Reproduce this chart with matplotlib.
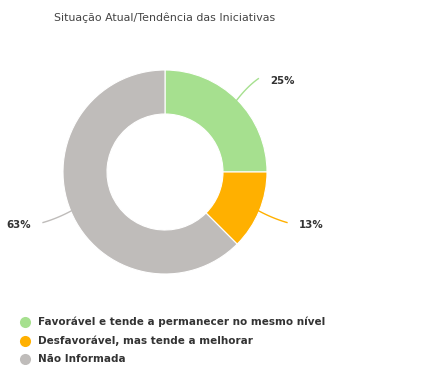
import numpy as np
import matplotlib
matplotlib.use("Agg")
import matplotlib.pyplot as plt

title = "Situação Atual/Tendência das Iniciativas"
categories = ["Favorável e tende a permanecer no mesmo nível",
              "Desfavorável, mas tende a melhorar",
              "Não Informada"]
values = [2, 1, 5]
labels = ["25%", "13%", "63%"]
colors = ["#a6e08f", "#ffb000", "#bfbcba"]

W, H = 442, 365
fig = plt.figure(figsize=(W / 100, H / 100), dpi=100)
ax = fig.add_axes([0, 0, 1, 1])

cx, cy, R, r_in = 165, H - 172, 102, 58
wedges, _ = ax.pie(values, colors=colors, startangle=90, counterclock=False,
                   center=(cx, cy), radius=R, frame=True,
                   wedgeprops=dict(width=R - r_in, edgecolor="white", linewidth=0.8))
ax.set_xlim(0, W)
ax.set_ylim(0, H)
ax.set_aspect("equal")
ax.axis("off")

t = np.linspace(0, 1, 30)
for w, lab, col in zip(wedges, labels, colors):
    ang = np.deg2rad((w.theta1 + w.theta2) / 2)
    x0, y0 = cx + (R - 1) * np.cos(ang), cy + (R - 1) * np.sin(ang)
    xe, ye = cx + (R + 30) * np.cos(ang), cy + (R + 30) * np.sin(ang)
    side = 1 if np.cos(ang) >= 0 else -1
    xc, yc = x0 + 0.5 * (xe - x0), y0 + 0.65 * (ye - y0)
    bx = (1 - t) ** 2 * x0 + 2 * (1 - t) * t * xc + t ** 2 * xe
    by = (1 - t) ** 2 * y0 + 2 * (1 - t) * t * yc + t ** 2 * ye
    ax.plot(bx, by, color=col, lw=1)
    ax.text(xe + side * 12, ye - 2.5, lab, ha="left" if side > 0 else "right",
            va="center", fontsize=7.4, fontweight="bold", color="#333333")

fig.text(165 / W, 1 - 18 / H, title, ha="center", va="center",
         fontsize=7.9, color="#444444")

for i, (cat, col) in enumerate(zip(categories, colors)):
    y = H - (322 + i * 18.5)
    ax.plot([25], [y], marker="o", markersize=8, color=col, markeredgewidth=0)
    ax.text(38, y, cat, ha="left", va="center", fontsize=7.5,
            fontweight="bold", color="#333333")

fig.savefig("out.png", dpi=100, facecolor="white")
